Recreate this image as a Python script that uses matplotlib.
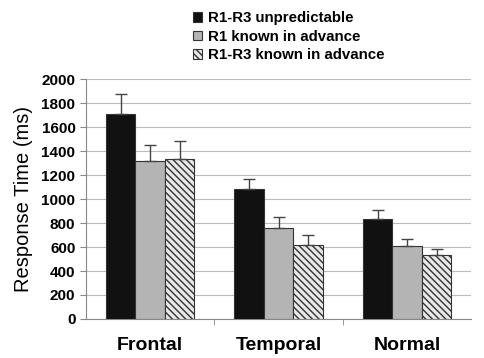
import numpy as np
import matplotlib.pyplot as plt

plt.rcParams['font.family'] = ['Liberation Sans', 'DejaVu Sans']
plt.rcParams['hatch.linewidth'] = 1.0
plt.rcParams['hatch.color'] = '#333333'

groups = ['Frontal', 'Temporal', 'Normal']
series = ['R1-R3 unpredictable', 'R1 known in advance', 'R1-R3 known in advance']
means = {
    'R1-R3 unpredictable': [1710, 1080, 830],
    'R1 known in advance': [1315, 760, 610],
    'R1-R3 known in advance': [1330, 615, 530],
}
errors = {
    'R1-R3 unpredictable': [170, 90, 80],
    'R1 known in advance': [135, 90, 60],
    'R1-R3 known in advance': [150, 85, 50],
}

colors = ['#111111', '#b4b4b4', '#e8e8e8']
hatches = [None, None, '\\' * 5]

fig = plt.figure(figsize=(4.85, 3.58), dpi=100)
ax = fig.add_axes([0.177, 0.109, 0.795, 0.67])

x = np.arange(len(groups))
w = 0.23
for i, s in enumerate(series):
    ax.bar(x + (i - 1) * w, means[s], w, color=colors[i], edgecolor='#333333',
           linewidth=0.8, hatch=hatches[i], label=s, zorder=3)
    ax.errorbar(x + (i - 1) * w, means[s], yerr=[np.zeros(3), errors[s]],
                fmt='none', ecolor='#444444', elinewidth=1, capsize=4, zorder=4)

ax.set_xlim(-0.5, 2.5)
ax.set_ylim(0, 2000)
ax.set_yticks(range(0, 2001, 200))
ax.yaxis.grid(True, color='#bbbbbb', linewidth=0.8, zorder=0)
ax.set_xticks(x)
ax.set_xticklabels(groups, fontsize=14, fontweight='bold')
ax.set_xticks([0.5, 1.5], minor=True)
ax.tick_params(axis='x', which='major', length=0, pad=13)
ax.tick_params(axis='x', which='minor', length=4, color='#888888')
ax.tick_params(axis='y', labelsize=11, color='#888888', length=4)
for lab in ax.get_yticklabels():
    lab.set_fontweight('bold')
ax.set_ylabel('Response Time (ms)', fontsize=14.5, labelpad=6)
for side in ['top', 'right']:
    ax.spines[side].set_visible(False)
for side in ['left', 'bottom']:
    ax.spines[side].set_color('#888888')

fig.legend(loc='upper left', bbox_to_anchor=(0.375, 1.0), frameon=False,
           prop={'weight': 'bold', 'size': 10.8}, handlelength=0.6,
           handleheight=0.6, handletextpad=0.4, labelspacing=0.3,
           borderaxespad=0.35)

fig.savefig('out.png', dpi=100)
